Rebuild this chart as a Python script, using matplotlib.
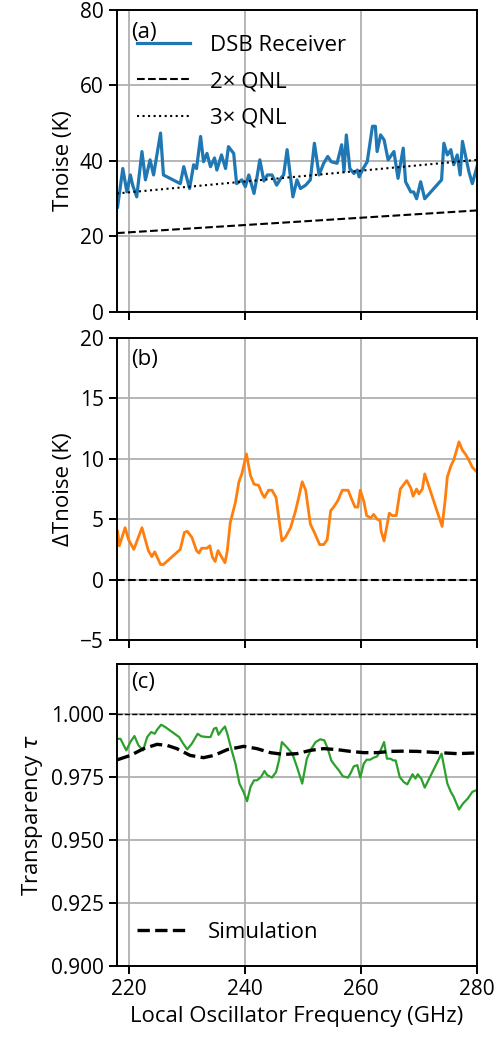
import numpy as np
import matplotlib
matplotlib.use("Agg")
import matplotlib.pyplot as plt
from matplotlib.ticker import FormatStrFormatter

plt.rcParams['font.family'] = ['Open Sans', 'DejaVu Sans']
plt.rcParams['font.size'] = 16
plt.rcParams['axes.linewidth'] = 1.4

# --- (a) DSB receiver noise temperature ---
f_a = [218.1, 219.0, 219.7, 220.3, 220.7, 221.4, 222.3, 222.9, 223.7, 224.3,
       225.5, 226.0, 228.9, 229.5, 230.5, 231.2, 231.7, 232.4, 232.9, 233.5,
       234.1, 234.8, 235.2, 236.0, 236.7, 237.2, 238.1, 238.6, 239.5, 240.1,
       240.7, 241.6, 242.1, 242.6, 243.3, 243.9, 244.7, 245.5, 246.3, 246.7,
       247.3, 248.3, 249.0, 249.6, 250.5, 251.3, 252.0, 252.8, 253.6, 254.3,
       254.9, 255.9, 256.7, 257.1, 257.5, 258.1, 258.8, 259.4, 259.7, 260.4,
       261.1, 262.0, 262.5, 262.8, 263.4, 264.0, 264.7, 265.7, 266.4, 267.3,
       267.7, 268.6, 269.1, 269.6, 270.3, 271.0, 273.9, 274.3, 274.9, 275.5,
       276.0, 276.6, 277.1, 277.5, 278.0, 278.6, 279.2, 280.1]
tnoise = [27.8, 38.0, 31.8, 36.3, 33.6, 30.5, 42.5, 35.0, 40.3, 36.3,
          47.4, 36.3, 34.0, 38.5, 32.7, 39.0, 38.0, 46.5, 39.8, 42.0,
          38.5, 40.8, 37.6, 41.6, 38.0, 43.8, 42.0, 34.0, 35.0, 33.2,
          36.3, 31.4, 35.6, 40.3, 34.7, 36.3, 36.3, 33.6, 35.6, 36.3,
          43.0, 30.5, 35.0, 32.7, 33.6, 35.0, 44.7, 36.3, 39.4, 41.2,
          39.8, 39.4, 44.3, 37.2, 46.9, 38.0, 36.7, 37.6, 35.8, 38.0,
          39.8, 49.2, 49.2, 42.5, 46.9, 45.6, 40.3, 42.5, 35.4, 43.4,
          34.5, 31.8, 31.8, 30.0, 34.5, 30.0, 35.0, 44.7, 41.6, 43.0,
          39.0, 41.6, 36.3, 45.2, 41.6, 37.2, 34.0, 39.0]
f_qnl = [218, 280]
qnl2 = [20.9, 26.9]
qnl3 = [31.4, 40.3]

# --- (b) delta Tnoise ---
f_b = [218.1, 218.4, 219.4, 220.0, 220.9, 222.3, 223.4, 224.0, 224.5, 225.5,
       226.0, 228.9, 229.6, 230.1, 230.9, 231.7, 232.1, 232.6, 233.5, 234.0,
       234.4, 234.9, 235.4, 236.1, 236.6, 237.0, 237.5, 238.4, 239.0, 239.5,
       240.3, 241.0, 241.6, 242.4, 243.0, 243.4, 244.1, 244.7, 245.4, 246.4,
       247.0, 247.9, 248.7, 249.3, 249.9, 250.5, 251.3, 252.0, 252.9, 253.6,
       254.2, 254.8, 255.3, 256.0, 256.8, 257.8, 258.3, 259.0, 259.5, 259.9,
       260.5, 261.0, 261.7, 262.2, 262.8, 263.3, 263.5, 264.0, 264.9, 265.4,
       266.1, 266.8, 267.9, 268.6, 269.0, 269.6, 270.0, 270.6, 271.0, 274.0,
       274.5, 274.9, 275.5, 276.0, 276.9, 277.5, 278.0, 278.6, 279.2, 279.8]
dtnoise = [4.0, 2.8, 4.3, 3.3, 2.5, 4.3, 2.4, 1.9, 2.3, 1.25,
           1.25, 2.5, 3.9, 4.0, 3.5, 2.4, 2.2, 2.6, 2.6, 2.8,
           1.9, 1.5, 2.4, 1.8, 1.4, 2.4, 4.7, 6.4, 8.1, 8.75,
           10.4, 8.6, 7.9, 7.8, 7.1, 6.8, 7.4, 7.4, 6.8, 3.2,
           3.5, 4.3, 5.6, 6.8, 8.1, 7.4, 4.6, 3.9, 2.9, 2.9,
           3.3, 5.7, 6.0, 6.5, 7.4, 7.4, 6.8, 6.0, 6.0, 7.4,
           6.5, 5.3, 5.1, 5.4, 5.0, 4.9, 4.0, 3.2, 5.5, 5.3,
           5.3, 7.5, 8.2, 7.6, 6.9, 7.5, 7.1, 7.5, 8.75, 4.4,
           6.5, 8.5, 9.4, 9.9, 11.4, 10.7, 10.4, 9.9, 9.3, 9.0]

# --- (c) transparency ---
f_c = [218.1, 218.6, 219.6, 220.3, 221.0, 221.7, 222.5, 223.2, 223.9, 224.5,
       224.9, 225.6, 226.3, 227.5, 228.7, 229.4, 230.1, 230.9, 231.9, 232.5,
       233.5, 234.1, 234.7, 235.1, 235.5, 236.1, 236.6, 237.0, 237.6, 238.4,
       239.1, 239.8, 240.4, 241.0, 241.6, 242.1, 242.8, 243.4, 243.9, 244.7,
       245.4, 245.9, 246.4, 247.3, 248.2, 249.0, 249.9, 250.7, 251.5, 252.2,
       253.0, 253.7, 254.3, 254.9, 255.5, 256.2, 256.9, 257.8, 258.2, 258.8,
       259.4, 259.9, 260.5, 261.0, 261.6, 262.2, 262.8, 263.4, 264.0, 264.5,
       265.1, 265.6, 266.0, 266.7, 267.4, 268.0, 268.9, 269.4, 269.8, 270.4,
       271.0, 273.9, 274.9, 275.5, 276.0, 276.9, 277.6, 278.4, 279.2, 279.8]
tau = [0.9903, 0.9903, 0.9857, 0.9890, 0.9914, 0.9877, 0.9857, 0.9910, 0.9930, 0.9923,
       0.9939, 0.9959, 0.9950, 0.9930, 0.9910, 0.9884, 0.9861, 0.9884, 0.9923, 0.9913,
       0.9910, 0.9910, 0.9943, 0.9947, 0.9919, 0.9939, 0.9952, 0.9923, 0.9870, 0.9804,
       0.9725, 0.9692, 0.9655, 0.9712, 0.9738, 0.9738, 0.9751, 0.9775, 0.9758, 0.9749,
       0.9771, 0.9817, 0.9890, 0.9868, 0.9844, 0.9791, 0.9725, 0.9824, 0.9864, 0.9890,
       0.9901, 0.9897, 0.9864, 0.9817, 0.9798, 0.9778, 0.9754, 0.9749, 0.9765, 0.9794,
       0.9798, 0.9749, 0.9804, 0.9820, 0.9820, 0.9828, 0.9833, 0.9857, 0.9890, 0.9824,
       0.9824, 0.9817, 0.9817, 0.9751, 0.9731, 0.9722, 0.9762, 0.9745, 0.9762, 0.9745,
       0.9709, 0.9844, 0.9725, 0.9692, 0.9672, 0.9622, 0.9646, 0.9665, 0.9692, 0.9698]
f_sim = [218.1, 220.3, 222.6, 224.9, 226.6, 228.3, 230.6, 232.9, 234.7, 237.0,
         239.8, 242.1, 244.4, 246.7, 249.0, 251.3, 253.6, 255.9, 258.2, 260.5,
         262.8, 265.1, 267.4, 269.7, 272.0, 274.3, 276.6, 280.1]
tau_sim = [0.9820, 0.9837, 0.9864, 0.9881, 0.9877, 0.9864, 0.9837, 0.9828, 0.9837, 0.9860,
           0.9873, 0.9864, 0.9848, 0.9841, 0.9844, 0.9857, 0.9864, 0.9860, 0.9853, 0.9848,
           0.9848, 0.9853, 0.9854, 0.9853, 0.9850, 0.9847, 0.9844, 0.9847]

fig = plt.figure(figsize=(4.97, 10.42), dpi=100)
ax1 = fig.add_axes([0.2354, 0.7006, 0.7243, 0.2898])
ax2 = fig.add_axes([0.2354, 0.3858, 0.7243, 0.2898])
ax3 = fig.add_axes([0.2354, 0.0729, 0.7243, 0.2898])

# (a)
ax1.plot(f_a, tnoise, color='C0', lw=2.3, label='DSB Receiver')
ax1.plot(f_qnl, qnl2, 'k--', lw=1.5, label='2× QNL')
ax1.plot(f_qnl, qnl3, 'k:', lw=1.5, label='3× QNL')
ax1.set_ylim(0, 80)
ax1.set_yticks([0, 20, 40, 60, 80])
ax1.set_ylabel('Tnoise (K)')
ax1.legend(loc='upper left', frameon=False, handlelength=2.4,
           handletextpad=0.9, labelspacing=0.7, bbox_to_anchor=(0.0, 0.985))
ax1.text(0.04, 0.96, '(a)', transform=ax1.transAxes, va='top', ha='left')

# (b)
ax2.plot(f_b, dtnoise, color='C1', lw=2.0)
ax2.axhline(0, color='k', ls='--', lw=1.5)
ax2.set_ylim(-5, 20)
ax2.set_yticks([-5, 0, 5, 10, 15, 20])
ax2.set_ylabel('ΔTnoise (K)')
ax2.text(0.04, 0.965, '(b)', transform=ax2.transAxes, va='top', ha='left')

# (c)
ax3.plot(f_c, tau, color='C2', lw=1.6)
ax3.plot(f_sim, tau_sim, 'k--', lw=2.4, label='Simulation')
ax3.axhline(1.0, color='k', ls='--', lw=1.0)
ax3.set_ylim(0.9, 1.02)
ax3.set_yticks([0.9, 0.925, 0.95, 0.975, 1.0])
ax3.yaxis.set_major_formatter(FormatStrFormatter('%.3f'))
ax3.set_ylabel('Transparency $\\tau$')
ax3.legend(loc='lower left', frameon=False, handlelength=2.3, handletextpad=0.9,
           bbox_to_anchor=(0.0, 0.01))
ax3.text(0.04, 0.975, '(c)', transform=ax3.transAxes, va='top', ha='left')
ax3.set_xlabel('Local Oscillator Frequency (GHz)')

for ax in (ax1, ax2, ax3):
    ax.set_xlim(218, 280)
    ax.set_xticks([220, 240, 260, 280])
    ax.grid(True, color='#b0b0b0', lw=1.3)
    ax.set_axisbelow(True)
    ax.tick_params(width=1.4, length=6, labelsize=15)
for ax in (ax1, ax2):
    ax.tick_params(labelbottom=False)

fig.savefig('out.png', dpi=100)
